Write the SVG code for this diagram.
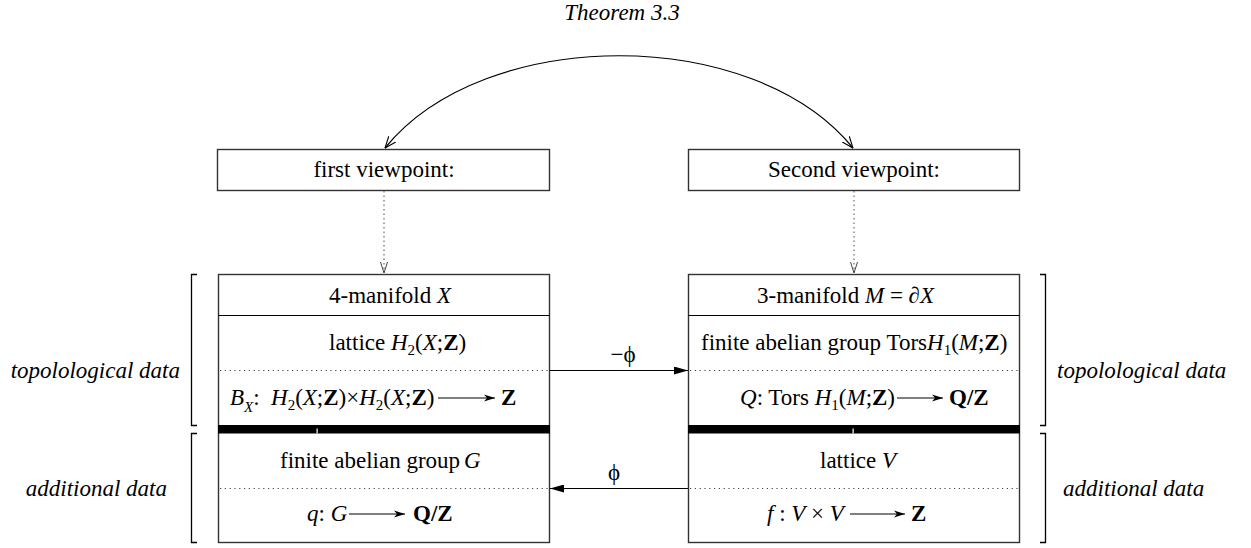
<svg xmlns="http://www.w3.org/2000/svg" width="1251" height="548" viewBox="0 0 1251 548">
<defs>
<style>
text{font-family:"Liberation Serif","Times New Roman",serif;font-size:23px;fill:#000}
.it{font-style:italic}
.bf{font-weight:bold}
.sub{font-size:15px}
.box{fill:#fff;stroke:#333;stroke-width:1.4}
.sep{stroke:#000;stroke-width:1.2}
.dot{stroke:#444;stroke-width:1.1;stroke-dasharray:1.2 3.6;fill:none}
.bar{fill:#000}
.brk{fill:none;stroke:#000;stroke-width:1.3}
.conn{fill:none;stroke:#000;stroke-width:1.2}
.vdot{fill:none;stroke:#777;stroke-width:1.3;stroke-dasharray:1.5 3}
.ma{fill:none;stroke:#000;stroke-width:1.1}
</style>
<marker id="openV" viewBox="0 0 12 10" refX="11.5" refY="5" markerWidth="12" markerHeight="10" markerUnits="userSpaceOnUse" orient="auto-start-reverse">
<path d="M0,0.5 L11.5,5 L0,9.5" fill="none" stroke="#000" stroke-width="1.1"/>
</marker>
<marker id="fillA" viewBox="0 0 14 8" refX="14" refY="4" markerWidth="14" markerHeight="8" markerUnits="userSpaceOnUse" orient="auto">
<path d="M0,0 L14,4 L0,8 Z" fill="#000"/>
</marker>
<marker id="mathA" viewBox="0 0 11 8" refX="11" refY="4" markerWidth="11" markerHeight="8" markerUnits="userSpaceOnUse" orient="auto">
<path d="M0,0.5 L11,4 L0,7.5 L3,4 Z" fill="#000"/>
</marker>
</defs>

<text class="it" x="622" y="20" text-anchor="middle">Theorem 3.3</text>

<g id="view1">
<rect class="box" x="217.5" y="149.5" width="332" height="41"/>
<text x="384" y="177" text-anchor="middle">first viewpoint:</text>
</g>
<g id="view2">
<rect class="box" x="688.5" y="149.5" width="331" height="41"/>
<text x="854" y="177" text-anchor="middle">Second viewpoint:</text>
</g>

<g id="left">
<rect class="box" x="218.5" y="274.5" width="331" height="268"/>
<line class="sep" x1="218.5" y1="315.5" x2="549.5" y2="315.5"/>
<line class="dot" x1="220" y1="370.5" x2="549" y2="370.5"/>
<rect class="bar" x="218" y="425" width="332" height="8.5"/>
<rect x="316.5" y="428.5" width="1.2" height="5" fill="#fff"/>
<line class="dot" x1="220" y1="488.5" x2="549" y2="488.5"/>
<text x="329" y="303">4-manifold <tspan class="it">X</tspan></text>
<text x="329" y="350">lattice <tspan class="it">H</tspan><tspan class="sub" dy="5">2</tspan><tspan dy="-5">(</tspan><tspan class="it">X</tspan>;<tspan class="bf">Z</tspan>)</text>
<text x="230" y="405"><tspan class="it">B</tspan><tspan class="it sub" dy="7">X</tspan><tspan dy="-7">:</tspan></text>
<text x="271" y="405"><tspan class="it">H</tspan><tspan class="sub" dy="5">2</tspan><tspan dy="-5">(</tspan><tspan class="it">X</tspan>;<tspan class="bf">Z</tspan>)×<tspan class="it">H</tspan><tspan class="sub" dy="5">2</tspan><tspan dy="-5">(</tspan><tspan class="it">X</tspan>;<tspan class="bf">Z</tspan>)</text>
<line class="ma" x1="438" y1="398" x2="495" y2="398" marker-end="url(#mathA)"/>
<text class="bf" x="501" y="405">Z</text>
<text x="280" y="468">finite abelian group<tspan class="it" dx="4">G</tspan></text>
<text x="307" y="521"><tspan class="it">q</tspan>: <tspan class="it">G</tspan></text>
<line class="ma" x1="349" y1="514" x2="405" y2="514" marker-end="url(#mathA)"/>
<text class="bf" x="413" y="521">Q/Z</text>
</g>

<g id="right">
<rect class="box" x="688.5" y="274.5" width="331" height="268"/>
<line class="sep" x1="688.5" y1="315.5" x2="1019.5" y2="315.5"/>
<line class="dot" x1="690" y1="370.5" x2="1019" y2="370.5"/>
<rect class="bar" x="688" y="425" width="332" height="8.5"/>
<rect x="852.5" y="428.5" width="1.2" height="5" fill="#fff"/>
<line class="dot" x1="690" y1="488.5" x2="1019" y2="488.5"/>
<text x="757" y="303">3-manifold <tspan class="it">M</tspan> = ∂<tspan class="it">X</tspan></text>
<text x="701" y="350">finite abelian group Tors<tspan class="it">H</tspan><tspan class="sub" dy="5">1</tspan><tspan dy="-5">(</tspan><tspan class="it">M</tspan>;<tspan class="bf">Z</tspan>)</text>
<text x="740" y="405"><tspan class="it">Q</tspan>: Tors <tspan class="it">H</tspan><tspan class="sub" dy="5">1</tspan><tspan dy="-5">(</tspan><tspan class="it">M</tspan>;<tspan class="bf">Z</tspan>)</text>
<line class="ma" x1="897" y1="398" x2="943" y2="398" marker-end="url(#mathA)"/>
<text class="bf" x="949" y="405">Q/Z</text>
<text x="820" y="468">lattice <tspan class="it">V</tspan></text>
<text x="767" y="521"><tspan class="it">f</tspan> : <tspan class="it">V</tspan> × <tspan class="it">V</tspan></text>
<line class="ma" x1="850" y1="514" x2="905" y2="514" marker-end="url(#mathA)"/>
<text class="bf" x="911" y="521">Z</text>
</g>

<g id="labels">
<path class="brk" d="M197,274.5 H191.5 V425.5 H197"/>
<path class="brk" d="M197,433.5 H191.5 V542.5 H197"/>
<path class="brk" d="M1040,274.5 H1045.5 V425.5 H1040"/>
<path class="brk" d="M1040,433.5 H1045.5 V542.5 H1040"/>
<text class="it" x="180" y="378" text-anchor="end">topolological data</text>
<text class="it" x="167" y="496" text-anchor="end">additional data</text>
<text class="it" x="1057" y="378">topolological data</text>
<text class="it" x="1063" y="496">additional data</text>
</g>

<g id="connectors">
<path class="conn" d="M385,148 C485,25 753,25 853,148" marker-start="url(#openV)" marker-end="url(#openV)"/>
<line class="vdot" x1="384" y1="191" x2="384" y2="272"/>
<path d="M380.5,262 L384,273 L387.5,262" fill="none" stroke="#444" stroke-width="1"/>
<line class="vdot" x1="854" y1="191" x2="854" y2="272"/>
<path d="M850.5,262 L854,273 L857.5,262" fill="none" stroke="#444" stroke-width="1"/>
<line class="conn" x1="550" y1="370.5" x2="688" y2="370.5" marker-end="url(#fillA)"/>
<line class="conn" x1="688" y1="488.5" x2="550" y2="488.5" marker-end="url(#fillA)"/>
<text x="623" y="362" text-anchor="middle">−ϕ</text>
<text x="614" y="480" text-anchor="middle">ϕ</text>
</g>
</svg>
